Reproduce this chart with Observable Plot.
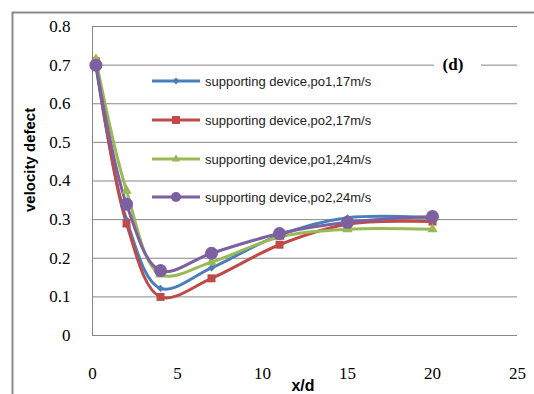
<!DOCTYPE html>
<html>
<head>
<meta charset="utf-8">
<script src="https://cdn.jsdelivr.net/npm/d3@7"></script>
<script src="https://cdn.jsdelivr.net/npm/@observablehq/plot@0.6"></script>
<style>
  html, body { margin: 0; padding: 0; background: #fff; }
  #chart { position: relative; width: 534px; height: 394px; overflow: hidden; }
  #chart g[aria-label="x-axis tick label"] text,
  #chart g[aria-label="y-axis tick label"] text { font-family: "Liberation Serif", "Times New Roman", serif !important; font-size: 17px; }
</style>
</head>
<body>
<div id="chart"></div>
<script>
// ---- data ----
const xd = [0.2, 2, 4, 7, 11, 15, 20];
const seriesNames = [
  "supporting device,po1,17m/s",
  "supporting device,po2,17m/s",
  "supporting device,po1,24m/s",
  "supporting device,po2,24m/s"
];
const po1_17 = [0.70, 0.30, 0.122, 0.175, 0.26, 0.305, 0.305];
const po2_17 = [0.71, 0.29, 0.100, 0.148, 0.235, 0.288, 0.295];
const po1_24 = [0.715, 0.375, 0.158, 0.19, 0.255, 0.275, 0.275];
const po2_24 = [0.70, 0.34, 0.168, 0.213, 0.264, 0.293, 0.308];
const xTicks = [0, 5, 10, 15, 20, 25];
const yTicks = [0, 0.1, 0.2, 0.3, 0.4, 0.5, 0.6, 0.7, 0.8];
const panelLabel = "(d)";
const xLabel = "x/d";
const yLabel = "velocity defect";

const colors = ["#4a7ebb", "#be4b48", "#98b954", "#7d60a0"];
const symbols = ["diamond2", "square", "triangle2", "circle"];
const radii = [3.2, 4.5, 5, 6.5];
const allSeries = [po1_17, po2_17, po1_24, po2_24];

const serif = "'Liberation Serif', 'Times New Roman', serif";
const sans = "'Liberation Sans', Arial, sans-serif";

const data = [];
allSeries.forEach((vals, si) => {
  vals.forEach((v, i) => data.push({series: seriesNames[si], idx: si, x: xd[i], y: v}));
});

const marks = [
  Plot.gridY(yTicks, {stroke: "#878787", strokeOpacity: 1, strokeWidth: 1}),
  Plot.ruleX([0], {stroke: "#878787", strokeWidth: 1}),
  Plot.axisY({ticks: yTicks, tickSize: 0, tickPadding: 22, tickFormat: d => String(+d.toFixed(1)), label: null, fontFamily: serif, fontSize: 17}),
  Plot.axisX({ticks: xTicks, tickSize: 0, tickPadding: 31, label: null, fontFamily: serif, fontSize: 17})
];
allSeries.forEach((vals, si) => {
  const d = data.filter(r => r.idx === si);
  marks.push(Plot.line(d, {x: "x", y: "y", stroke: colors[si], strokeWidth: 3, curve: "catmull-rom"}));
});
allSeries.forEach((vals, si) => {
  const d = data.filter(r => r.idx === si);
  marks.push(Plot.dot(d, {x: "x", y: "y", fill: colors[si], stroke: "none", symbol: () => symbols[si], r: radii[si]}));
});
marks.push(Plot.text([xLabel], {frameAnchor: "bottom", text: d => d, dx: -2, dy: 50, fontFamily: sans, fontWeight: "bold", fontSize: 16, lineAnchor: "middle"}));
marks.push(Plot.text([yLabel], {frameAnchor: "left", text: d => d, rotate: -90, dx: -62, dy: 31, fontFamily: sans, fontWeight: "bold", fontSize: 15, lineAnchor: "middle"}));

const chart = Plot.plot({
  width: 534,
  height: 394,
  marginLeft: 92,
  marginRight: 17,
  marginTop: 26,
  marginBottom: 59,
  x: {domain: [0, 25]},
  y: {domain: [0, 0.8]},
  style: {fontFamily: serif, fontSize: "17px", color: "#000", background: "#fff", overflow: "visible"},
  marks
});
document.getElementById("chart").appendChild(chart);

const svg = d3.select(chart);
// force serif on tick labels
svg.selectAll("g[aria-label$='tick label']").attr("font-family", serif).style("font-family", serif);
svg.selectAll("g[aria-label$='tick label'] text").style("font-family", serif);

// outer chart border (clipped on right/bottom like the reference)
svg.append("path").attr("d", "M12.5,394 L12.5,12.5 L534,12.5").attr("fill", "none").attr("stroke", "#8a8a8a").attr("stroke-width", 2);

// legend
const leg = svg.append("g").attr("text-anchor", "start");
const legY = [81, 120, 159, 197];
seriesNames.forEach((name, i) => {
  const g = leg.append("g");
  g.append("line").attr("x1", 152).attr("x2", 200).attr("y1", legY[i]).attr("y2", legY[i]).attr("stroke", colors[i]).attr("stroke-width", 3);
  const sym = [d3.symbolDiamond2, d3.symbolSquare, d3.symbolTriangle2, d3.symbolCircle][i];
  const size = [3.2, 4.5, 4, 5][i];
  g.append("path").attr("d", d3.symbol(sym, size * size * Math.PI)()).attr("transform", `translate(176,${legY[i]})`).attr("fill", colors[i]);
  g.append("text").attr("x", 205).attr("y", legY[i]).attr("dy", "0.35em").attr("text-anchor", "start").style("font-family", sans).attr("font-size", 13).attr("fill", "#222").text(name);
});

// panel label with white background breaking the gridline
svg.append("rect").attr("x", 434).attr("y", 52).attr("width", 47).attr("height", 24).attr("fill", "#fff");
svg.append("text").attr("x", 453).attr("y", 64).attr("dy", "0.35em").attr("text-anchor", "middle").style("font-family", serif).attr("font-weight", "bold").attr("font-size", 17).text(panelLabel);
</script>
</body>
</html>
